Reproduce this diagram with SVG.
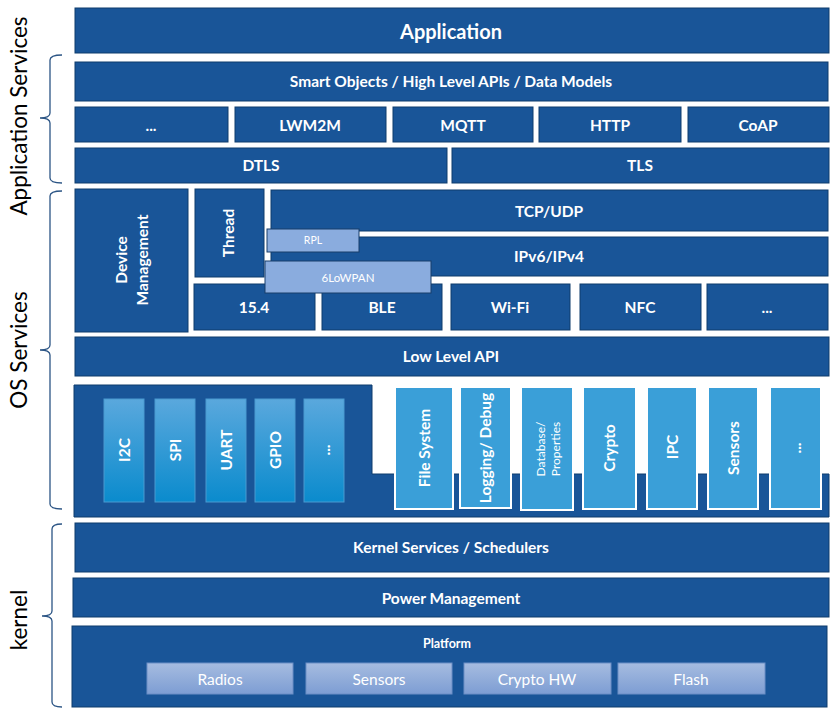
<svg xmlns="http://www.w3.org/2000/svg" width="834" height="720" viewBox="0 0 834 720">
<defs>
<linearGradient id="gIf" x1="0" y1="0" x2="0" y2="1">
<stop offset="0" stop-color="#5aa8dd"/>
<stop offset="1" stop-color="#0a8bcd"/>
</linearGradient>
<linearGradient id="gHw" x1="0" y1="0" x2="0" y2="1">
<stop offset="0" stop-color="#a6bce0"/>
<stop offset="1" stop-color="#7d9dd3"/>
</linearGradient>
<style>
.d{fill:#195598;stroke:#0f3c6c;stroke-width:1}
.rl{fill:#8aacde;stroke:#183f6a;stroke-width:1}
.sv{fill:#3a9fd8;stroke:#ffffff;stroke-width:2}
.ifc{fill:url(#gIf);stroke:#4a9ad0;stroke-width:1}
.hw{fill:url(#gHw);stroke:#6d8fc6;stroke-width:1}
text{font-family:Lato,"Open Sans","Liberation Sans",sans-serif;fill:#ffffff;text-anchor:middle;dominant-baseline:central;font-weight:bold}
.t14{font-size:15.5px}
.t11{font-size:11px;font-weight:normal}
.hwt{font-size:15.5px;font-weight:normal}
.lbl{fill:#000000;font-weight:normal;font-size:22.5px}
.br{fill:none;stroke:#2c5585;stroke-width:1.3}
</style>
</defs>
<rect width="834" height="720" fill="#ffffff"/>

<g id="labels">
<text class="lbl" transform="translate(18,116) rotate(-90)">Application Services</text>
<text class="lbl" transform="translate(18,350) rotate(-90)">OS Services</text>
<text class="lbl" transform="translate(18,620) rotate(-90)">kernel</text>
</g>

<g id="connectors">
<path class="br" d="M62,55 Q50,55 50,60 L50,113 Q50,118 40,118 Q50,118 50,123 L50,178 Q50,183 62,183"/>
<path class="br" d="M62,191 Q50,191 50,196 L50,345 Q50,350 40,350 Q50,350 50,355 L50,504 Q50,509 62,509"/>
<path class="br" d="M62,524 Q52,524 52,529 L52,611 Q52,616 42,616 Q52,616 52,621 L52,702 Q52,707 62,707"/>
</g>

<g id="application"><rect class="d" x="75" y="8" width="754" height="45"/><text x="451" y="31" style="font-size:20px">Application</text></g>
<g id="smart-objects"><rect class="d" x="75" y="62" width="753" height="39"/><text class="t14" x="451" y="81">Smart Objects / High Level APIs / Data Models</text></g>
<g id="proto-more"><rect class="d" x="75" y="107" width="153" height="35"/><text class="t14" x="151" y="125">...</text></g>
<g id="lwm2m"><rect class="d" x="235" y="107" width="151" height="35"/><text class="t14" x="310" y="125">LWM2M</text></g>
<g id="mqtt"><rect class="d" x="393" y="107" width="140" height="35"/><text class="t14" x="463" y="125">MQTT</text></g>
<g id="http"><rect class="d" x="539" y="107" width="142" height="35"/><text class="t14" x="610" y="125">HTTP</text></g>
<g id="coap"><rect class="d" x="688" y="107" width="141" height="35"/><text class="t14" x="758" y="125">CoAP</text></g>
<g id="dtls"><rect class="d" x="75" y="148" width="372" height="35"/><text class="t14" x="261" y="165">DTLS</text></g>
<g id="tls"><rect class="d" x="452" y="148" width="377" height="35"/><text class="t14" x="640" y="165">TLS</text></g>

<g id="device-management"><rect class="d" x="75" y="189" width="113" height="143"/>
<text class="t14" transform="translate(121,260) rotate(-90)">Device</text>
<text class="t14" transform="translate(142,260) rotate(-90)">Management</text></g>
<g id="thread"><rect class="d" x="195" y="189" width="69" height="88"/><text class="t14" transform="translate(228,233) rotate(-90)">Thread</text></g>
<g id="tcp-udp"><rect class="d" x="271" y="190" width="557" height="41"/><text class="t14" x="549" y="211">TCP/UDP</text></g>
<g id="ipv6-ipv4"><rect class="d" x="271" y="237" width="557" height="39"/><text class="t14" x="549" y="256">IPv6/IPv4</text></g>
<g id="link-154"><rect class="d" x="194" y="284" width="121" height="46"/><text class="t14" x="254" y="307">15.4</text></g>
<g id="link-ble"><rect class="d" x="322" y="284" width="120" height="46"/><text class="t14" x="382" y="307">BLE</text></g>
<g id="link-wifi"><rect class="d" x="451" y="284" width="119" height="46"/><text class="t14" x="510" y="307">Wi-Fi</text></g>
<g id="link-nfc"><rect class="d" x="580" y="284" width="121" height="46"/><text class="t14" x="640" y="307">NFC</text></g>
<g id="link-more"><rect class="d" x="707" y="284" width="121" height="46"/><text class="t14" x="767" y="307">...</text></g>
<g id="rpl"><rect class="rl" x="267" y="229" width="92" height="23"/><text class="t11" x="313" y="240" style="font-size:10.5px">RPL</text></g>
<g id="6lowpan"><rect class="rl" x="265" y="261" width="166" height="32"/><text class="t11" x="348" y="277" style="font-size:11.5px">6LoWPAN</text></g>

<g id="low-level-api"><rect class="d" x="75" y="337" width="754" height="39"/><text class="t14" x="451" y="356">Low Level API</text></g>

<g id="drivers"><path class="d" d="M74,385 L372,385 L372,474 L829,474 L829,517 L74,517 Z"/>
<g id="i2c"><rect class="ifc" x="104" y="399" width="40" height="103"/><text class="t14" transform="translate(124,450) rotate(-90)">I2C</text></g>
<g id="spi"><rect class="ifc" x="155" y="399" width="40" height="103"/><text class="t14" transform="translate(175,450) rotate(-90)">SPI</text></g>
<g id="uart"><rect class="ifc" x="206" y="399" width="40" height="103"/><text class="t14" transform="translate(226,450) rotate(-90)">UART</text></g>
<g id="gpio"><rect class="ifc" x="255" y="399" width="40" height="103"/><text class="t14" transform="translate(275,450) rotate(-90)">GPIO</text></g>
<g id="if-more"><rect class="ifc" x="304" y="399" width="40" height="103"/><text class="t14" transform="translate(324,450) rotate(-90)">...</text></g>
</g>

<g id="file-system"><rect class="sv" x="395" y="387" width="58" height="122"/><text class="t14" transform="translate(424,448) rotate(-90)">File System</text></g>
<g id="logging"><rect class="sv" x="460" y="387" width="51" height="121"/><text class="t14" transform="translate(485,448) rotate(-90)">Logging/ Debug</text></g>
<g id="database"><rect class="sv" x="521" y="387" width="52" height="123"/>
<text class="t11" transform="translate(540,449) rotate(-90)" style="font-size:12px">Database/</text>
<text class="t11" transform="translate(555,449) rotate(-90)" style="font-size:12px">Properties</text></g>
<g id="crypto"><rect class="sv" x="583" y="387" width="53" height="122"/><text class="t14" transform="translate(609,448) rotate(-90)">Crypto</text></g>
<g id="ipc"><rect class="sv" x="647" y="387" width="50" height="122"/><text class="t14" transform="translate(672,447) rotate(-90)">IPC</text></g>
<g id="sensors-svc"><rect class="sv" x="708" y="387" width="50" height="122"/><text class="t14" transform="translate(733,448) rotate(-90)">Sensors</text></g>
<g id="svc-more"><rect class="sv" x="770" y="387" width="51" height="122"/><text class="t14" transform="translate(795,448) rotate(-90)">...</text></g>

<g id="kernel-services"><rect class="d" x="75" y="523" width="754" height="49"/><text class="t14" x="451" y="547">Kernel Services / Schedulers</text></g>
<g id="power-management"><rect class="d" x="73" y="578" width="756" height="39"/><text class="t14" x="451" y="598">Power Management</text></g>
<g id="platform"><rect class="d" x="72" y="626" width="755" height="81"/><text x="447" y="643" style="font-size:12.5px">Platform</text>
<g id="radios"><rect class="hw" x="147" y="663" width="146" height="31"/><text class="hwt" x="220" y="679">Radios</text></g>
<g id="sensors-hw"><rect class="hw" x="306" y="663" width="146" height="31"/><text class="hwt" x="379" y="679">Sensors</text></g>
<g id="crypto-hw"><rect class="hw" x="464" y="663" width="147" height="31"/><text class="hwt" x="537" y="679">Crypto HW</text></g>
<g id="flash"><rect class="hw" x="618" y="663" width="147" height="31"/><text class="hwt" x="691" y="679">Flash</text></g>
</g>
</svg>
